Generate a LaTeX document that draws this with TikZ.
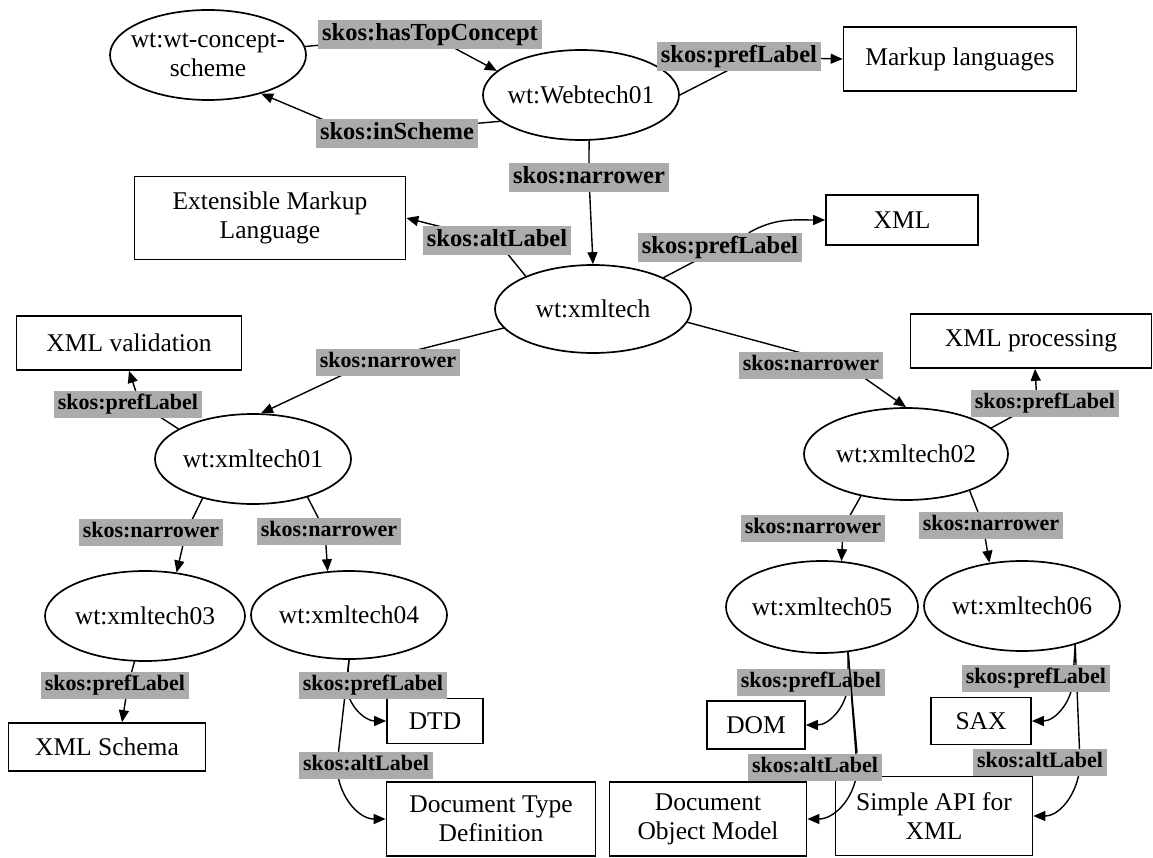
\documentclass[tikz,border=0pt]{standalone}
\usepackage{fontspec}
\setmainfont{Liberation Serif}
\usetikzlibrary{shapes.geometric, arrows.meta, backgrounds}

\begin{document}
\begin{tikzpicture}
		[x=1pt,y=1pt,line width=1.7pt,line cap=round,
		%Styles
		concept/.style={ellipse,draw,inner xsep=-15pt,inner ysep=0pt,minimum width=196pt,minimum height=90pt,align=center,font=\fontsize{25.5}{29}\selectfont},
		literal/.style={rectangle,draw,inner sep=0pt,align=center,font=\fontsize{25.5}{29}\selectfont},
		rel/.style={fill=relgray,inner xsep=4pt,inner ysep=3pt,text height=16pt,text depth=5pt,font=\fontsize{22}{24}\selectfont\bfseries},
		big rel/.style={rel,text height=17.5pt,text depth=5.5pt,font=\fontsize{24.5}{27}\selectfont\bfseries},
		link/.style={-{Triangle[length=12pt,width=10pt]}}
		]
		
		%Colors
		\colorlet{relgray}{black!33}	%label boxes
		
		%The graphic
		\useasboundingbox (0,0) rectangle (1153,-858);
		
		%Concepts
		\node[concept] (scheme) at (208,-55) {wt:wt-concept-\\scheme};
		\node[concept] (webtech) at (581,-95) {wt:Webtech01};
		\node[concept,minimum height=88pt] (xmltech) at (593,-309) {wt:xmltech};
		\node[concept] (xt1) at (253,-459) {wt:xmltech01};
		\node[concept,minimum width=204pt,minimum height=92pt] (xt2) at (906,-454) {wt:xmltech02};
		\node[concept,minimum width=200pt] (xt3) at (145,-616) {wt:xmltech03};
		\node[concept,minimum height=88pt] (xt4) at (349,-615) {wt:xmltech04};
		\node[concept,minimum width=192pt,minimum height=92pt] (xt5) at (822,-607) {wt:xmltech05};
		\node[concept] (xt6) at (1022,-606) {wt:xmltech06};
		
		%Literals
		\node[literal,minimum width=233pt,minimum height=64pt] (markup) at (960,-59) {Markup languages};
		\node[literal,minimum width=271pt,minimum height=83pt] (extml) at (270,-218) {Extensible Markup\\Language};
		\node[literal,minimum width=152pt,minimum height=50pt] (xmlbox) at (902,-220) {XML};
		\node[literal,minimum width=225pt,minimum height=54pt] (valid) at (129,-343) {XML validation};
		\node[literal,minimum width=241pt,minimum height=54pt] (proc) at (1031,-341) {XML processing};
		\node[literal,minimum width=197pt,minimum height=48pt] (schema) at (107,-747) {XML Schema};
		\node[literal,minimum width=96pt,minimum height=45pt] (dtd) at (435,-721) {DTD};
		\node[literal,minimum width=209pt,minimum height=74pt] (dtdlong) at (491,-819) {Document Type\\Definition};
		\node[literal,minimum width=98pt,minimum height=48pt] (dom) at (756,-725) {DOM};
		\node[literal,minimum width=197pt,minimum height=74pt] (domlong) at (708,-819) {Document\\Object Model};
		\node[literal,minimum width=100pt,minimum height=47pt] (sax) at (981,-721) {SAX};
		\node[literal,minimum width=197pt,minimum height=79pt] (saxlong) at (934,-816) {Simple API for\\XML};
		
		%Relation labels
		\node[big rel] (top) at (430,-35) {skos:hasTopConcept};
		\node[big rel] (insch) at (397,-134) {skos:inScheme};
		\node[big rel] (pref0) at (739,-57) {skos:prefLabel};
		\node[big rel] (narr0) at (589,-178) {skos:narrower};
		\node[big rel] (alt0) at (497,-241) {skos:altLabel};
		\node[big rel] (prefx) at (720,-248) {skos:prefLabel};
		\node[rel] (narr1) at (388,-362) {skos:narrower};
		\node[rel] (narr2) at (811,-365) {skos:narrower};
		\node[rel] (pref1) at (128,-404) {skos:prefLabel};
		\node[rel] (pref2) at (1045,-403) {skos:prefLabel};
		\node[rel] (narr3) at (151,-532) {skos:narrower};
		\node[rel] (narr4) at (329,-531) {skos:narrower};
		\node[rel] (narr5) at (813,-528) {skos:narrower};
		\node[rel] (narr6) at (991,-525) {skos:narrower};
		\node[rel] (pref3) at (115,-685) {skos:prefLabel};
		\node[rel] (pref4) at (373,-685) {skos:prefLabel};
		\node[rel] (alt4) at (366,-765) {skos:altLabel};
		\node[rel] (pref5) at (811,-682) {skos:prefLabel};
		\node[rel] (alt5) at (815,-767) {skos:altLabel};
		\node[rel] (pref6) at (1036,-678) {skos:prefLabel};
		\node[rel] (alt6) at (1040,-762) {skos:altLabel};
		
		%Connectors, behind the labels
		\begin{pgfonlayer}{background}
		\begin{scope}[line width=1.4pt,line cap=round]
		\draw[link] (scheme.5) -- (top.center) -- (webtech.164);
		\draw[link] (webtech.198) -- ([xshift=-40pt]insch.center) -- (scheme.-36);
		\draw[link] (webtech.east) -- ([xshift=15pt]pref0.center) -- (markup.west);
		\draw[link] (webtech.-80) -- (narr0.center) -- (xmltech.north);
		\draw[link] (xmltech.154) -- (alt0.center) -- (extml.east);
		\draw[link] (xmltech.24) -- (prefx.center) ([xshift=29pt]prefx.north) to[out=30,in=180] (xmlbox);
		\draw[link] (xmltech.192) -- ([xshift=-18pt]narr1.center) -- (xt1.80);
		\draw[link] (xmltech.-8) -- ([xshift=35pt]narr2.center) -- (xt2.north);
		\draw[link] (xt1.158) -- ([xshift=12pt]pref1.center) -- (valid.south);
		\draw[link] (xt2.17) -- ([xshift=-8pt]pref2.center) -- ([xshift=4pt]proc.south);
		\draw[link] (xt1.218) -- ([xshift=35pt]narr3.center) -- (xt3.54);
		\draw[link] (xt1.-35) -- ([xshift=-4pt]narr4.center) -- (xt4.116);
		\draw[link] (xt2.223) -- ([xshift=30pt]narr5.center) -- (xt5.67);
		\draw[link] (xt2.-30) -- ([xshift=-8pt]narr6.center) -- (xt6.127);
		\draw[link] (xt3.257) -- ([xshift=13pt]pref3.center) -- ([xshift=15pt]schema.north);
		\draw[link] (xt4.south) -- ([xshift=-26pt]pref4.center) to[out=-90,in=180] (dtd);
		\draw[link] (xt4.south) -- ([xshift=-29pt]alt4.center) to[out=-90,in=180] (dtdlong);
		\draw[link] (xt5.-60) -- ([xshift=37pt]pref5.center) to[out=-90,in=0] (dom);
		\draw[link] (xt5.-60) -- ([xshift=42pt]alt5.center) to[out=-90,in=0] (domlong);
		\draw[link] (xt6.-36) -- ([xshift=37pt]pref6.center) to[out=-90,in=0] (sax);
		\draw[link] (xt6.-36) -- ([xshift=40pt]alt6.center) to[out=-90,in=0] (saxlong);
		\end{scope}
		\end{pgfonlayer}
		
		%this one runs over its neighbour label
		\draw[line width=1.4pt] (xt5.-60) -- ([xshift=42pt]alt5.north);
		
	\end{tikzpicture}
\end{document}
